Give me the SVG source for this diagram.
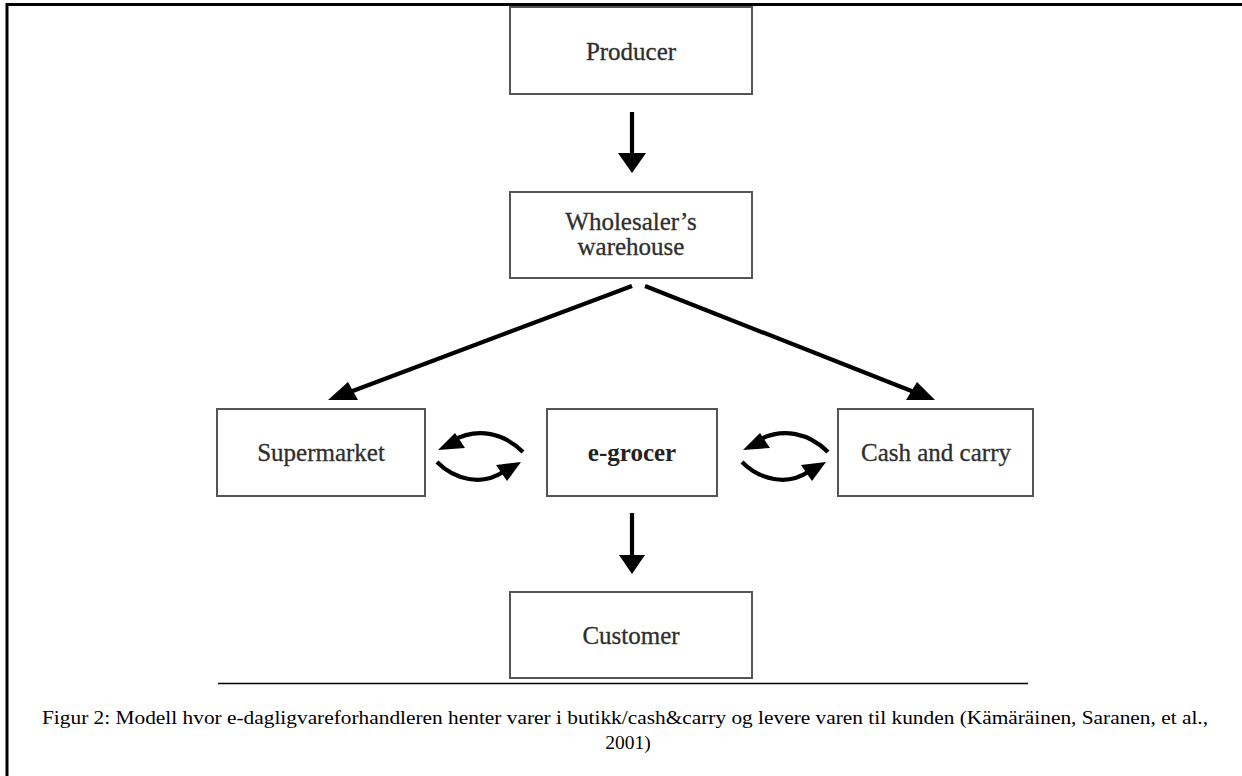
<svg xmlns="http://www.w3.org/2000/svg" width="1242" height="776" viewBox="0 0 1242 776">
  <style>
    .box { fill: #ffffff; stroke: #555555; stroke-width: 2; }
    .label { font-family: "Liberation Serif", "Times New Roman", serif; font-size: 25px; fill: #2e2e2e; stroke: #2e2e2e; stroke-width: 0.3; text-anchor: middle; }
    .bold { font-weight: bold; fill: #222222; stroke: none; }
    .line { fill: none; stroke: #000000; stroke-width: 4.2; stroke-linecap: butt; }
    .head { fill: #000000; stroke: none; }
    .caption { font-family: "Liberation Serif", "Times New Roman", serif; font-size: 19.5px; fill: #000000; }
  </style>

  <rect width="1242" height="776" fill="#ffffff"/>

  <!-- page frame -->
  <path d="M7,776 V4.5 H1242" fill="none" stroke="#000000" stroke-width="3"/>

  <g id="producer">
    <rect class="box" x="510" y="7" width="242" height="87"/>
    <text class="label" x="631" y="60">Producer</text>
  </g>

  <g id="wholesaler">
    <rect class="box" x="510" y="192" width="242" height="86"/>
    <text class="label" x="631" y="230">Wholesaler’s</text>
    <text class="label" x="631" y="255">warehouse</text>
  </g>

  <g id="supermarket">
    <rect class="box" x="217" y="409" width="208" height="87"/>
    <text class="label" x="321" y="461">Supermarket</text>
  </g>

  <g id="egrocer">
    <rect class="box" x="547" y="409" width="170" height="87"/>
    <text class="label bold" x="632" y="461">e-grocer</text>
  </g>

  <g id="cashandcarry">
    <rect class="box" x="838" y="409" width="195" height="87"/>
    <text class="label" x="936" y="461">Cash and carry</text>
  </g>

  <g id="customer">
    <rect class="box" x="510" y="592" width="242" height="86"/>
    <text class="label" x="631" y="644">Customer</text>
  </g>

  <g id="connectors">
    <!-- producer to wholesaler -->
    <line class="line" x1="632" y1="112" x2="632" y2="156" stroke-width="5"/>
    <polygon class="head" points="618,153 646,153 632,173"/>

    <!-- wholesaler to supermarket -->
    <line class="line" x1="632" y1="286" x2="350" y2="392"/>
    <polygon class="head" points="328,400 358,400 348,382"/>

    <!-- wholesaler to cash and carry -->
    <line class="line" x1="645" y1="286" x2="914" y2="392"/>
    <polygon class="head" points="935,400 906,400 917,382"/>

    <!-- supermarket / e-grocer exchange -->
    <path class="line" d="M523,452 C505,434 478,426 452,441"/>
    <polygon class="head" points="438,450 455,433 465,448"/>
    <path class="line" d="M437,462 C455,480 482,486 503,472"/>
    <polygon class="head" points="521,462 496,465 507,481"/>

    <!-- e-grocer / cash and carry exchange -->
    <path class="line" d="M828,452 C810,434 783,426 757,441"/>
    <polygon class="head" points="743,450 760,433 770,448"/>
    <path class="line" d="M742,462 C760,480 787,486 808,472"/>
    <polygon class="head" points="826,462 801,465 812,481"/>

    <!-- e-grocer to customer -->
    <line class="line" x1="632" y1="513" x2="632" y2="558" stroke-width="5"/>
    <polygon class="head" points="619,555 645,555 632,574"/>
  </g>

  <!-- caption -->
  <line x1="218" y1="683.5" x2="1028" y2="683.5" stroke="#000000" stroke-width="1.3"/>
  <text class="caption" x="42" y="724" textLength="1166" lengthAdjust="spacingAndGlyphs">Figur 2: Modell hvor e-dagligvareforhandleren henter varer i butikk/cash&amp;carry og levere varen til kunden (Kämäräinen, Saranen, et al.,</text>
  <text class="caption" x="628" y="749" text-anchor="middle">2001)</text>
</svg>
